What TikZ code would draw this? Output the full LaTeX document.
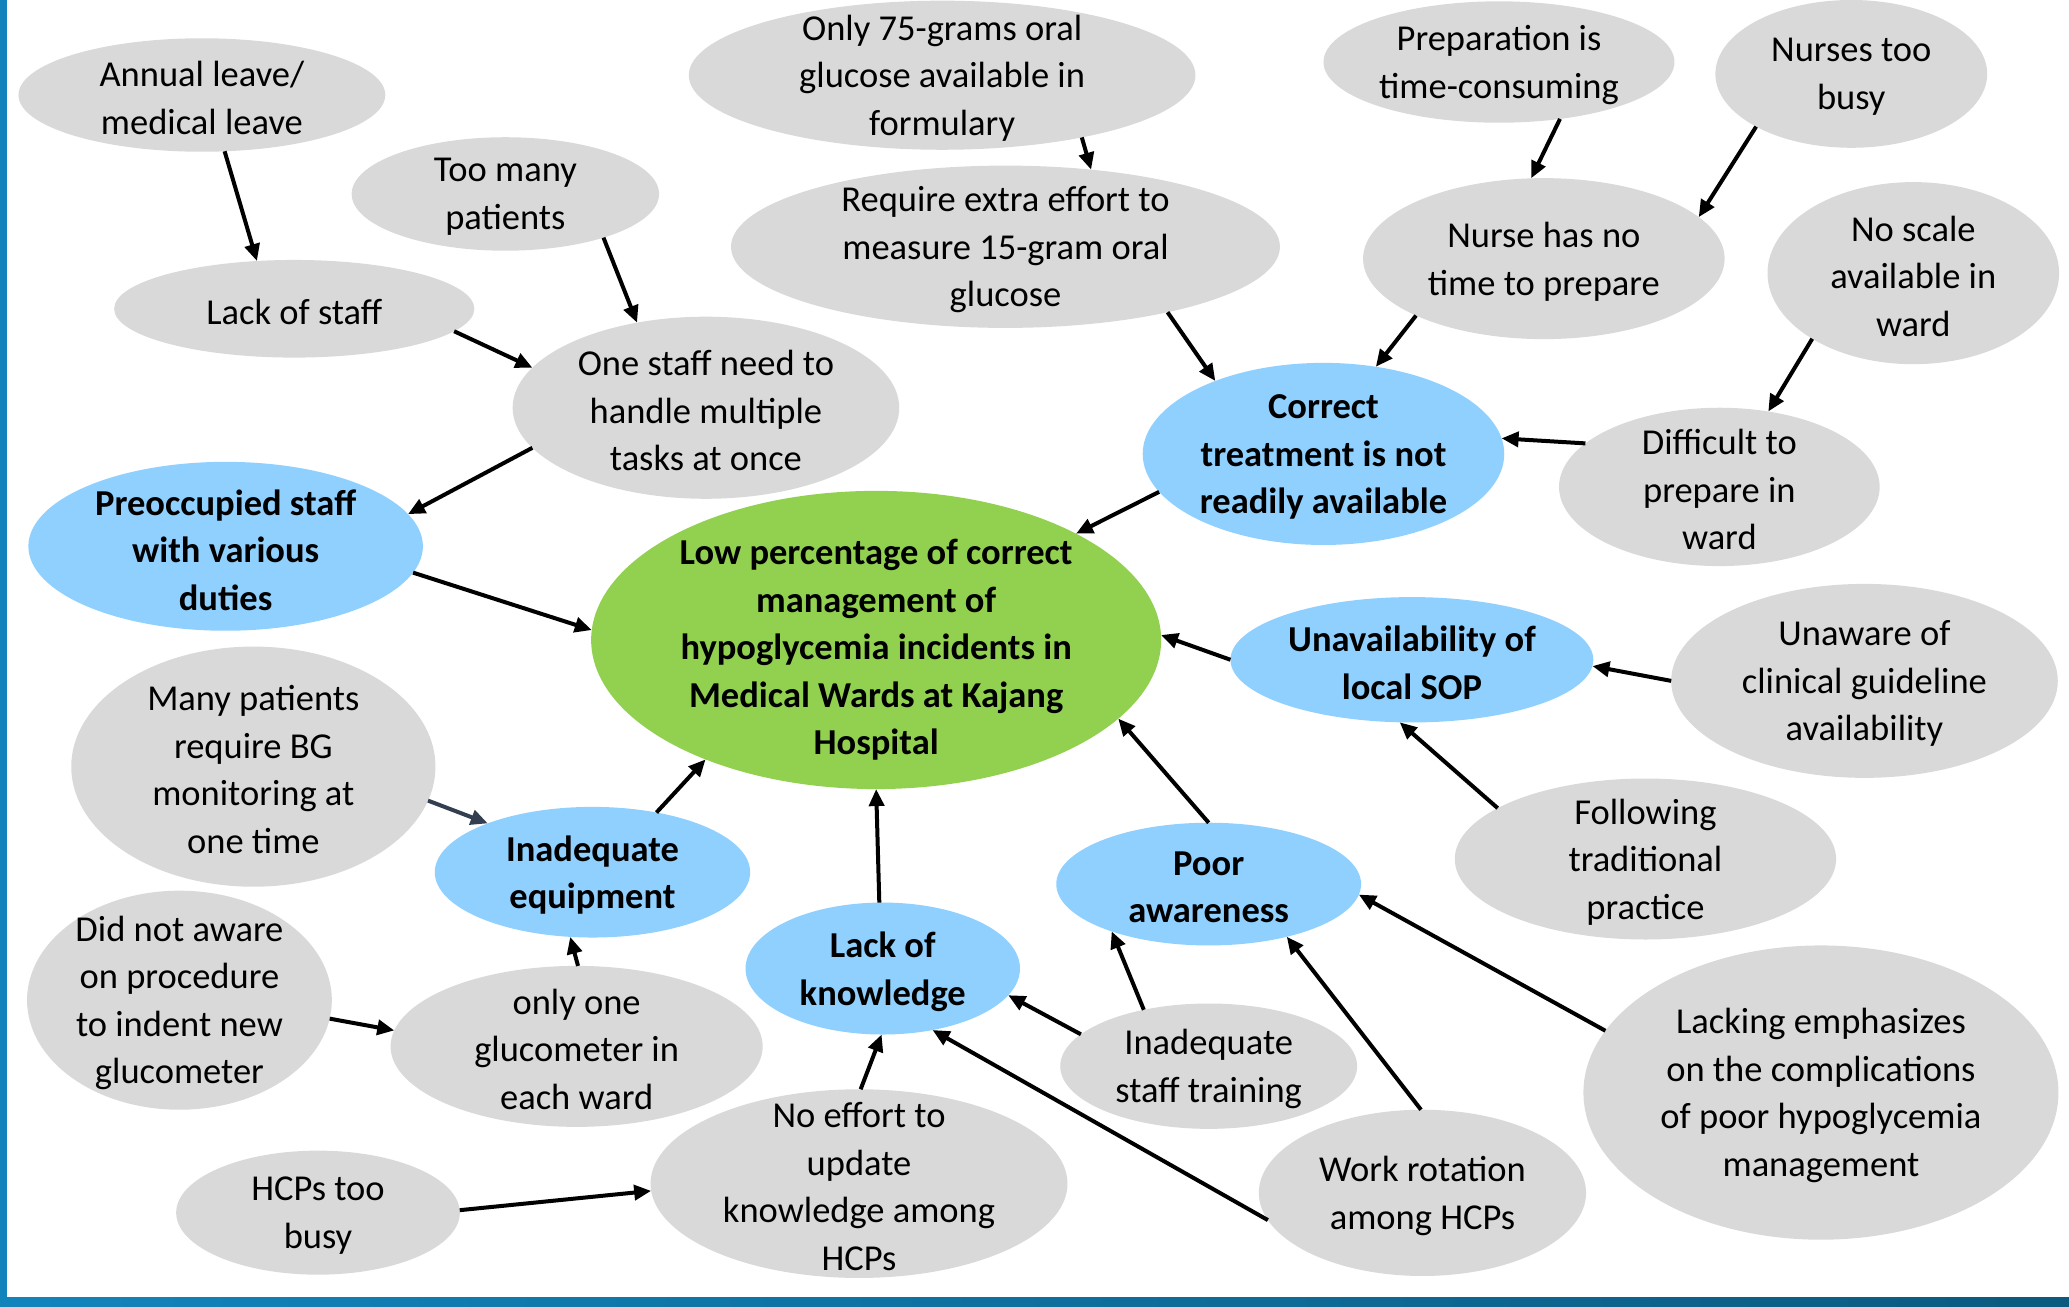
\documentclass[tikz,border=0pt]{standalone}
\usepackage{fontspec}
\setmainfont{Carlito}
\usetikzlibrary{shapes.geometric,arrows.meta}
\definecolor{gr}{RGB}{217,217,217}
\definecolor{bl}{RGB}{143,208,255}
\definecolor{gn}{RGB}{146,208,80}
\definecolor{edgeA}{RGB}{18,132,188}
\definecolor{edgeB}{RGB}{11,90,127}
\definecolor{slate}{RGB}{51,63,80}
\begin{document}
\begin{tikzpicture}[x=1.3195pt,y=-1.3195pt,
 ell/.style 2 args={ellipse, draw=none, inner sep=0pt, outer sep=0pt, minimum width=1.3195*#1pt, minimum height=1.3195*#2pt},
 gre/.style 2 args={ell={#1}{#2}, fill=gr},
 blu/.style 2 args={ell={#1}{#2}, fill=bl},
 grn/.style 2 args={ell={#1}{#2}, fill=gn},
 txt/.style={align=center, inner sep=0pt, yshift=-3pt, font=\fontsize{36.5}{47.5}\selectfont},
 btxt/.style={align=center, inner sep=0pt, yshift=-3pt, font=\fontsize{36.5}{47.5}\selectfont\bfseries},
 arr/.style={draw=black, line width=4pt, -{Triangle[length=17pt,width=15pt]}},
]
\useasboundingbox (0,0) rectangle (1568,990);
\fill[edgeA] (0,0) rectangle (5.5,990);
\shade[left color=edgeA, right color=edgeB] (0,983) rectangle (1568,990);

% grey and coloured ellipses
\node[gre={278}{86}] (an) at (153,72) [label={[txt]center:{Annual leave/\\medical leave}}] {};
\node[gre={233}{86}] (tm) at (383,147) [label={[txt]center:{Too many\\patients}}] {};
\node[gre={273}{74}] (ls) at (223,234) [label={[txt]center:{Lack of staff}}] {};
\node[gre={293}{138}] (os) at (535,309) [label={[txt]center:{One staff need to\\handle multiple\\tasks at once}}] {};
\node[blu={299}{128}] (pre) at (171,414) [label={[btxt,yshift=-1pt]center:{Preoccupied staff\\with various\\duties}}] {};
\node[gre={384}{113}] (o75) at (714,57) [label={[txt]center:{Only 75-grams oral\\glucose available in\\formulary}}] {};
\node[gre={416}{123}] (req) at (762,187) [label={[txt]center:{Require extra effort to\\measure 15-gram oral\\glucose}}] {};
\node[gre={266}{92}] (prep) at (1136,47) [label={[txt]center:{Preparation is\\time-consuming}}] {};
\node[gre={206}{112}] (nb) at (1403,56) [label={[txt]center:{Nurses too\\busy}}] {};
\node[gre={274}{122}] (nt) at (1170,196) [label={[txt]center:{Nurse has no\\time to prepare}}] {};
\node[gre={221}{138}] (ns) at (1450,207) [label={[txt]center:{No scale\\available in\\ward}}] {};
\node[blu={274}{138}] (ct) at (1003,344) [label={[btxt]center:{Correct\\treatment is not\\readily available}}] {};
\node[gre={243}{120}] (dp) at (1303,369) [label={[txt]center:{Difficult to\\prepare in\\ward}}] {};
\node[grn={432}{226}] (low) at (664,485) [label={[btxt,yshift=-7pt]center:{Low percentage of correct\\management of\\hypoglycemia incidents in\\Medical Wards at Kajang\\Hospital}}] {};
\node[blu={275}{95}] (sop) at (1070,500) [label={[btxt]center:{Unavailability of\\local SOP}}] {};
\node[gre={293}{147}] (ua) at (1413,516) [label={[txt]center:{Unaware of\\clinical guideline\\availability}}] {};
\node[gre={276}{182}] (mp) at (192,581) [label={[txt]center:{Many patients\\require BG\\monitoring at\\one time}}] {};
\node[blu={239}{99}] (ie) at (449,661) [label={[btxt]center:{Inadequate\\equipment}}] {};
\node[gre={289}{122}] (ft) at (1247,651) [label={[txt]center:{Following\\traditional\\practice}}] {};
\node[blu={231}{93}] (pa) at (916,670) [label={[btxt]center:{Poor\\awareness}}] {};
\node[blu={208}{100}] (lk) at (669,734) [label={[btxt]center:{Lack of\\knowledge}}] {};
\node[gre={231}{166}] (dn) at (136,758) [label={[txt]center:{Did not aware\\on procedure\\to indent new\\glucometer}}] {};
\node[gre={282}{122}] (oo) at (437,793) [label={[txt]center:{only one\\glucometer in\\each ward}}] {};
\node[gre={225}{95}] (ist) at (916,808) [label={[txt]center:{Inadequate\\staff training}}] {};
\node[gre={360}{223}] (le) at (1380,828) [label={[txt]center:{Lacking emphasizes\\on the complications\\of poor hypoglycemia\\management}}] {};
\node[gre={215}{94}] (hcp) at (241,919) [label={[txt]center:{HCPs too\\busy}}] {};
\node[gre={316}{143}] (ne) at (651,897) [label={[txt]center:{No effort to\\update\\knowledge among\\HCPs}}] {};
\node[gre={248}{126}] (wr) at (1078,904) [label={[txt]center:{Work rotation\\among HCPs}}] {};

% connectors
\foreach \a/\aa/\b/\bb in {
  an/-68.4/ls/128.9, tm/-24.6/os/129.1, ls/-8.2/os/167.9, os/193.5/pre/10.1,
  pre/-8.4/low/178.7, o75/-24.1/req/42.7, req/-22.3/ct/146.8,
  prep/-43.1/nt/99.3, nb/209.3/nt/15.6, nt/204.2/ct/59.7,
  ns/213.2/dp/57.9, dp/162.2/ct/5.6, ct/193/low/28.6,
  sop/180.4/low/1, ua/180/sop/-2.1, ft/161.3/sop/-101.5,
  pa/90/low/-18.5, ist/139.4/pa/206.9, wr/91/pa/-34.3, le/164.9/pa/-4.2,
  ist/166.1/lk/-12.6, wr/190.1/lk/-51.2, ne/89/lk/-91, lk/93.3/low/-90,
  ie/43.3/low/215.8, oo/89/ie/-109.6, dn/-7.6/oo/175.4, hcp/1/ne/182.6}
  \draw[arr] (\a.\aa) -- (\b.\bb);
\draw[arr, draw=slate, fill=slate] (mp.-11.1) -- (ie.155);
\end{tikzpicture}
\end{document}
